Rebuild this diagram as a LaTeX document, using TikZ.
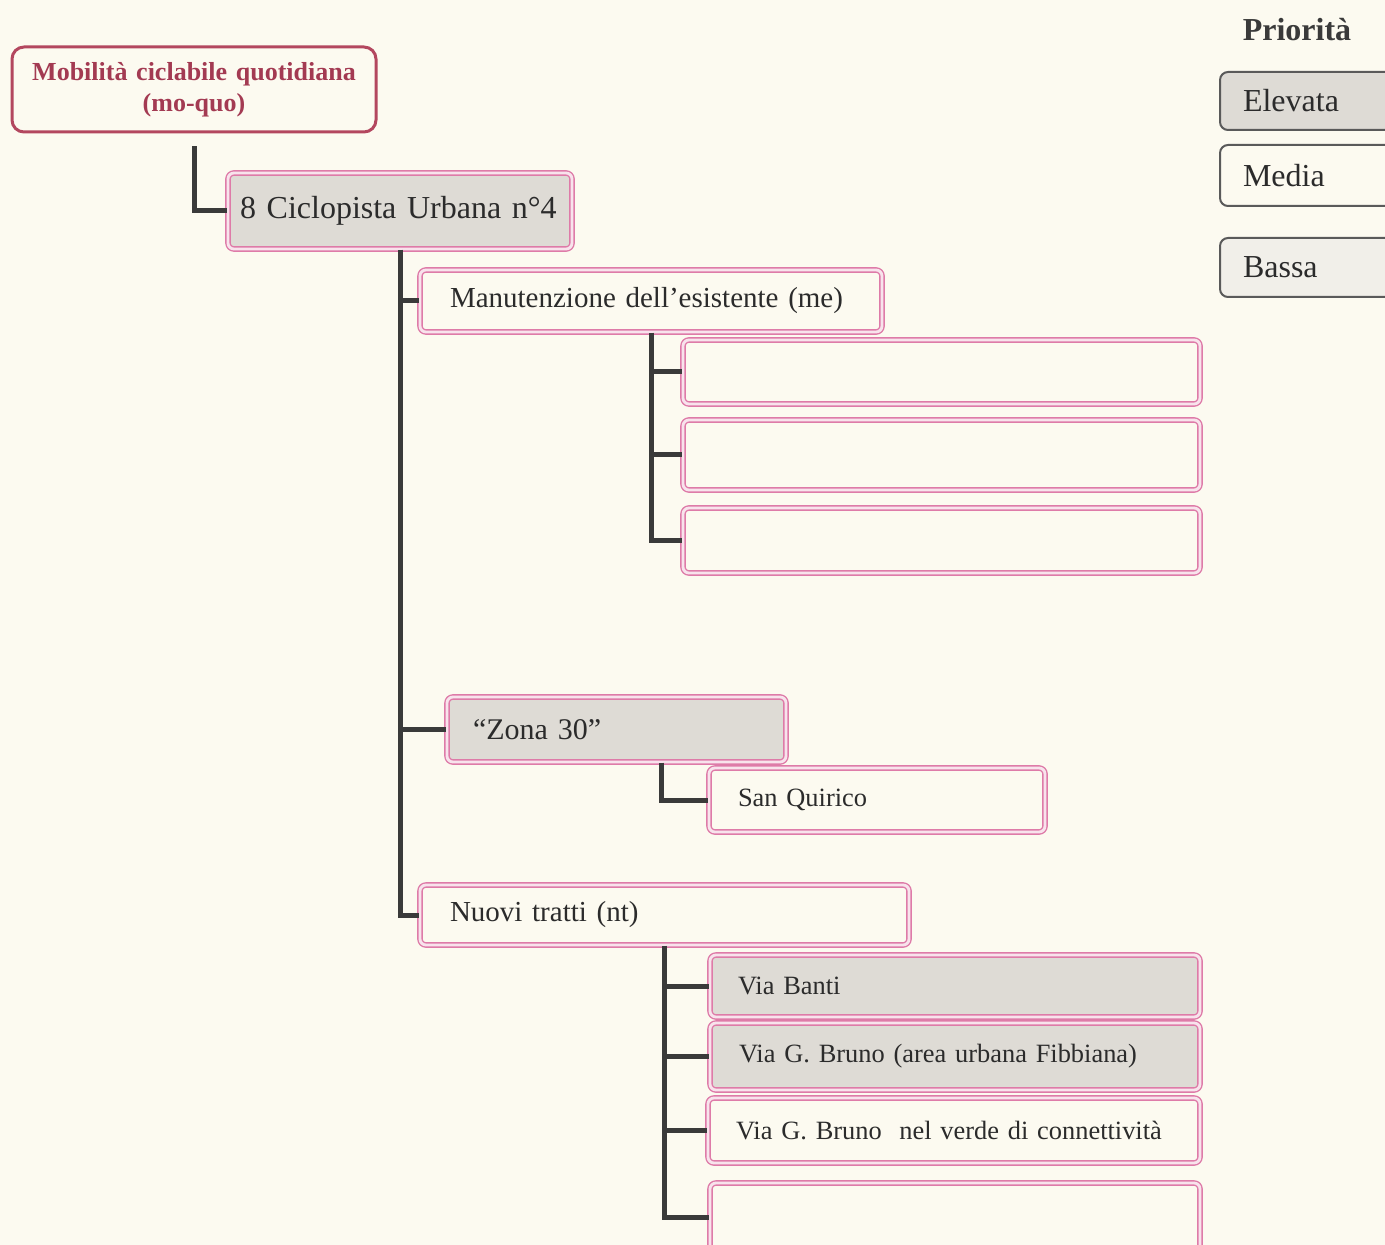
\documentclass[tikz,border=0pt]{standalone}
\usepackage{fontspec}
\setmainfont{Liberation Serif}[WordSpace=0.85]
\usetikzlibrary{calc}
\definecolor{paper}{HTML}{FCFAF0}
\definecolor{greyf}{HTML}{DEDBD5}
\definecolor{lightf}{HTML}{F1EFE9}
\definecolor{pinkc}{HTML}{DE7BA8}
\definecolor{pinkl}{HTML}{F8E3EC}
\definecolor{crimson}{HTML}{B3475F}
\definecolor{crimsontext}{HTML}{A33A52}
\definecolor{ink}{HTML}{2B2B2B}
\definecolor{connc}{HTML}{3A3A3A}
\definecolor{legc}{HTML}{5A5A5A}
\begin{document}
\begin{tikzpicture}[x=0.5pt,y=-0.5pt,
  pinkbox/.style={draw=pinkc, double=pinkl, line width=0.7pt, double distance=1.4pt,
    rounded corners=3pt, fill=paper, inner ysep=0pt, align=left, text=ink},
  greybox/.style={pinkbox, fill=greyf},
  small/.style={font=\fontsize{13.2}{16}\selectfont},
  legbox/.style={draw=legc, line width=1pt, rounded corners=4pt, inner ysep=0pt,
    inner xsep=11.5pt, text width=67pt, align=left, text=ink,
    font=\fontsize{16}{19}\selectfont},
  conn/.style={draw=connc, line width=2.5pt, line join=miter}]
\useasboundingbox (0,0) rectangle (1385,1245);
\clip (0,0) rectangle (1385,1245);
\fill[paper] (0,0) rectangle (1385,1245);

% root
\node[draw=crimson, line width=1.5pt, rounded corners=6pt, fill=paper,
  minimum height=42.5pt, text width=170pt, inner xsep=6pt, align=center,
  text=crimsontext, font=\bfseries\fontsize{13}{15.5}\selectfont]
  (top) at (194,89.5) {Mobilità ciclabile quotidiana\\(mo-quo)};

% level 1
\node[greybox, minimum height=38pt, text width=160pt, inner xsep=6pt,
  font=\fontsize{16}{19}\selectfont] (cic) at (400,211) {\raisebox{2pt}{8 Ciclopista Urbana n°4}};

% level 2
\node[pinkbox, minimum height=31pt, text width=201pt, inner xsep=15pt,
  font=\fontsize{14.5}{17}\selectfont] (man) at (651,301) {\raisebox{-1pt}{Manutenzione dell’esistente (me)}};
\node[greybox, minimum height=32.5pt, text width=143.5pt, inner xsep=13pt,
  font=\fontsize{15}{18}\selectfont] (zona) at (616.5,729.5) {“Zona 30”};
\node[pinkbox, minimum height=30pt, text width=214.5pt, inner xsep=15pt,
  font=\fontsize{14.5}{17}\selectfont] (nt) at (664.5,915) {\raisebox{-1pt}{Nuovi tratti (nt)}};

% level 3
\node[pinkbox, minimum width=258.5pt, minimum height=32pt] (e1) at (941.5,372) {};
\node[pinkbox, minimum width=258.5pt, minimum height=35pt] (e2) at (941.5,455) {};
\node[pinkbox, minimum width=258.5pt, minimum height=32.5pt] (e3) at (941.5,540.5) {};

\node[pinkbox, small, minimum height=32pt, text width=139pt, inner xsep=14.5pt]
  (sq) at (877,800) {San Quirico};

\node[greybox, small, minimum height=31pt, text width=217pt, inner xsep=14pt]
  (vb) at (955,986) {Via Banti};
\node[greybox, small, minimum height=33.5pt, text width=216pt, inner xsep=14.5pt]
  (vgb1) at (955,1056.5) {Via G. Bruno (area urbana Fibbiana)};
\node[pinkbox, small, minimum height=32.5pt, text width=218pt, inner xsep=14pt]
  (vgb2) at (954,1130.5) {Via G. Bruno\ \ nel verde di connettività};
\node[pinkbox, minimum width=245pt, minimum height=34pt] (e4) at (955,1217) {};

% legend
\node[text=connc, font=\bfseries\fontsize{16}{19}\selectfont] (prio) at (1297,30) {Priorità};
\node[legbox, fill=greyf, minimum height=29pt] (el) at (1310,101) {Elevata};
\node[legbox, fill=paper, minimum height=30.5pt] (me) at (1310,175.5) {Media};
\node[legbox, fill=lightf, minimum height=29.5pt] (ba) at (1310,267.5) {Bassa};

% connectors
\draw[conn] ($(top.south)+(0,13)$) |- (cic.west);

\draw[conn] (cic.south) |- (nt.west);
\draw[conn] (cic.south |- man.west) -- (man.west);
\draw[conn] (cic.south |- zona.west) -- (zona.west);

\draw[conn] (man.south) |- (e3.west);
\draw[conn] (man.south |- e1.west) -- (e1.west);
\draw[conn] (man.south |- e2.west) -- (e2.west);

\draw[conn] ($(zona.south west)+(215,0)$) |- (sq.west);

\draw[conn] (nt.south) |- (e4.west);
\draw[conn] (nt.south |- vb.west) -- (vb.west);
\draw[conn] (nt.south |- vgb1.west) -- (vgb1.west);
\draw[conn] (nt.south |- vgb2.west) -- (vgb2.west);
\end{tikzpicture}
\end{document}
